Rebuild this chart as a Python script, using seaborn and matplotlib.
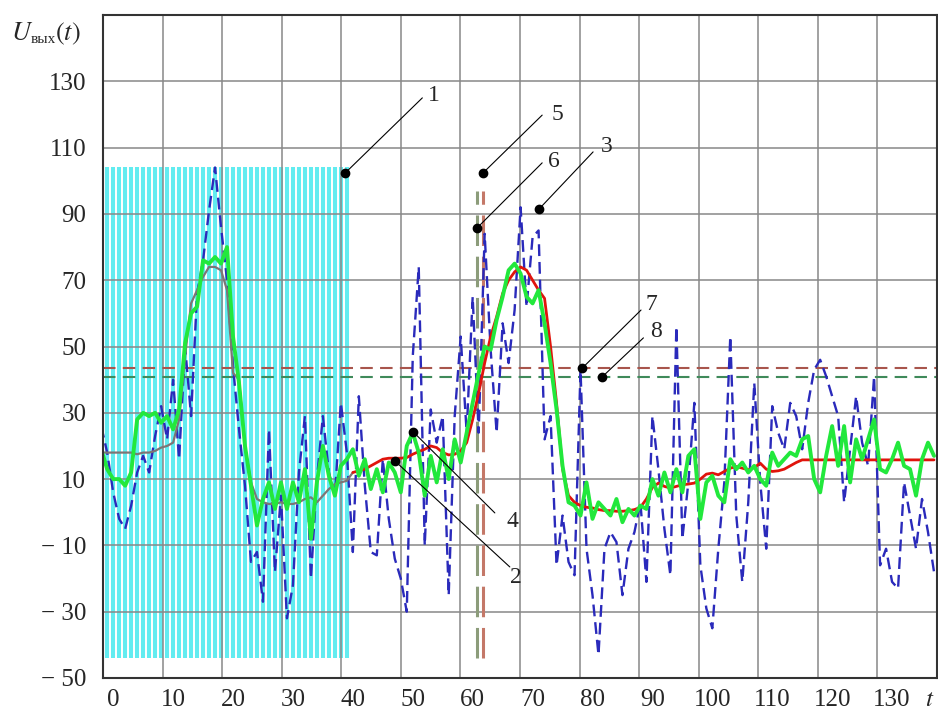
import numpy as np
import pandas as pd
import seaborn as sns
import matplotlib.pyplot as plt

# time axis, one sample per unit
t = np.arange(-2, 138)

# noisy output (blue dashed, curve 3)
blue = [26, 18,
        6, -2, -5, 2, 12, 17, 12, 23, 32, 22,
        40, 16, 50, 29, 66, 76, 91, 104, 86, 70,
        44, 25, 8, -15, -12, -27, 25, -18, 5, -32,
        -22, 12, 29, -20, 10, 29, 12, 5, 33, 18,
        -12, 35, 8, -12, -13, 16, -2, -14, -20, -30,
        47, 74, -10, 31, 21, 29, -25, 29, 53, 24,
        65, 24, 84, 49, 24, 57, 45, 61, 92, 62,
        83, 85, 22, 29, -16, -1, -15, -19, 43, -11,
        -25, -43, -11, -6, -9, -25, -11, -6, 3, -21,
        29, 13, -5, -19, 56, -8, 9, 33, -16, -29,
        -35, -11, 9, 53, -1, -21, 3, 39, 9, -11,
        32, 24, 19, 33, 29, 19, 33, 43, 46, 41,
        35, 29, 3, 19, 35, 21, 14, 41, -16, -11,
        -21, -23, 9, -1, -11, 4, -6, -18]

# filtered output (green, curve 4)
green = [19, 13,
         10, 10, 8, 12, 28, 30, 29, 30, 27, 29,
         25, 31, 51, 60, 62, 76, 75, 77, 75, 80,
         53, 39, 20, 8, -4, 4, 9, 1, 9, 1,
         9, 3, 13, -8, 9, 20, 11, 5, 14, 16,
         19, 11, 16, 7, 13, 6, 15, 12, 6, 20,
         24, 18, 5, 17, 9, 19, 10, 22, 15, 24,
         33, 42, 50, 49, 58, 65, 73, 75, 72, 65,
         63, 67, 57, 45, 31, 14, 3, 2, -1, 9,
         -2, 3, 1, -1, 4, -3, 1, -1, 2, 1,
         10, 5, 12, 6, 13, 6, 17, 19, -2, 9,
         11, 5, 3, 16, 13, 15, 12, 14, 10, 8,
         18, 14, 16, 18, 17, 22, 23, 10, 6, 17,
         26, 14, 26, 9, 22, 16, 22, 28, 13, 12,
         16, 21, 14, 13, 5, 16, 21, 17]

# smoothed output (gray up to t=40, red after, curve 2)
smooth = [18, 18,
          18, 18, 18, 18, 17.5, 18, 18, 18.5, 19.5, 20,
          21, 28, 47, 63, 67, 71, 74, 74, 73, 67,
          42, 40, 20, 9, 4, 3, 2.5, 2.5, 3, 2.5,
          2.5, 3, 4, 4.5, 3, 5, 7, 8.5, 9, 9.5,
          12, 12.5, 13, 14, 15, 16, 16.3, 16.3, 16.3, 16.5,
          17.5, 18.3, 19, 20, 19.5, 18, 17.3, 17.5, 18.5, 21,
          28, 36, 45, 53, 59, 66, 70, 72.5, 74, 73,
          70, 67, 64.5, 50, 33, 13, 5, 3, 2, 1.5,
          1.3, 0.8, 0.5, 0.5, 0.3, 0.3, 0.5, 0.8, 1.5, 4,
          7.5, 8.8, 7.8, 7.3, 7.8, 8.3, 8.5, 8.8, 10, 11.5,
          11.8, 11.3, 12.3, 13.3, 13.8, 13.3, 12.8, 13.5, 14.8, 13,
          12.3, 12.5, 13, 14, 15, 15.8, 15.8, 15.8, 15.8, 15.8,
          15.8, 15.8, 15.8, 15.8, 15.8, 15.8, 15.8, 15.8, 15.8, 15.8,
          15.8, 15.8, 15.8, 15.8, 15.8, 15.8, 15.8, 15.8]

# training window (cyan, curve 1)
window_t = np.arange(-1, 40)
window_top, window_bottom = 104, -44

# thresholds (7, 8) and switching moments (5, 6)
level_red, level_green = 43.5, 40.8
switch_red, switch_green = 61.7, 60.8
switch_top, switch_bottom = 97, -44

xticks = list(range(0, 140, 10))
yticks = list(range(-50, 150, 20))
ytick_labels = [f"\u2212 {abs(v)}" if v < 0 else str(v) for v in yticks]

# number, marker point, end of leader, label centre
callouts = [("1", (38.7, 102.3), (51.6, 125.0), (53.6, 125.6)),
            ("5", (61.7, 102.3), (71.6, 119.8), (74.1, 120.1)),
            ("6", (60.7, 85.7), (71.6, 105.4), (73.6, 105.7)),
            ("3", (71.1, 91.5), (80.1, 108.7), (82.4, 110.2)),
            ("7", (78.3, 43.5), (88.1, 61.0), (89.8, 62.8)),
            ("8", (81.6, 40.8), (88.5, 52.6), (90.6, 54.4)),
            ("2", (47.0, 15.5), (66.2, -16.5), (67.2, -19.8)),
            ("4", (50.1, 24.2), (63.7, -0.2), (66.6, -2.9))]

sns.set_style("white")
plt.rcParams['font.family'] = ['Liberation Serif', 'DejaVu Serif']
plt.rcParams['mathtext.fontset'] = 'stix'

df = pd.DataFrame({'t': t, 'blue': blue, 'green': green, 'smooth': smooth})

fig = plt.figure(figsize=(9.38, 7.11), dpi=100)
ax = fig.add_axes([103 / 938, 33 / 711, 834 / 938, 663 / 711])
xlim = (-1.7, 137.5)

ax.vlines(window_t, window_bottom, window_top, color='#62ecf0', lw=2.9, zorder=1)

ax.axhline(level_red, color='#a8554c', lw=1.5, dashes=(6, 3.5), zorder=2.6)
ax.axhline(level_green, color='#3f8a5a', lw=1.5, dashes=(6, 3.5), zorder=2.6)
ax.vlines(switch_green, switch_bottom, switch_top, color='#8c9c7a', lw=2.2,
          linestyles=(0, (10, 3.5)), zorder=2.7)
ax.vlines(switch_red, switch_bottom, switch_top, color='#c47868', lw=2.2,
          linestyles=(0, (10, 3.5)), zorder=2.7)

sns.lineplot(data=df, x='t', y='blue', ax=ax, color='#2a2abb', lw=1.7,
             linestyle=(0, (5, 2.5)), sort=False, zorder=3)
sns.lineplot(data=df[df.t <= 40], x='t', y='smooth', ax=ax, color='#7d7575',
             lw=1.6, sort=False, zorder=4)
sns.lineplot(data=df[df.t >= 40], x='t', y='smooth', ax=ax, color='#e0140c',
             lw=2.0, sort=False, zorder=4)
sns.lineplot(data=df, x='t', y='green', ax=ax, color='#22e83c', lw=2.8,
             sort=False, zorder=5)

for num, (mx, my), (ex, ey), (lx, ly) in callouts:
    ax.plot([mx, ex], [my, ey], color='black', lw=0.8, zorder=6)
    ax.plot(mx, my, 'o', color='black', ms=6, zorder=7)
    ax.text(lx, ly, num, fontsize=17, ha='center', va='center', zorder=7)

ax.set_xlim(*xlim)
ax.set_ylim(-50, 150)
ax.set_xticks(xticks + [136.3])
ax.set_xticklabels([str(v) for v in xticks] + ['$t$'])
ax.set_xticks(np.linspace(xlim[0], xlim[1], 15)[1:-1], minor=True)
ax.set_yticks(yticks)
ax.set_yticklabels(ytick_labels)
ax.set_xlabel('')
ax.set_ylabel('')
ax.tick_params(which='both', length=0, labelsize=18)
ax.tick_params(axis='y', pad=12)
ax.tick_params(axis='x', pad=8)
ax.grid(which='minor', axis='x', color='#888888', lw=1.1)
ax.grid(which='major', axis='y', color='#888888', lw=1.1)
ax.grid(which='major', axis='x', visible=False)
ax.set_axisbelow(False)
for side in ['left', 'bottom', 'top', 'right']:
    ax.spines[side].set_color('#333333')
    ax.spines[side].set_linewidth(1.5)
    ax.spines[side].set_zorder(8)

fig.text(11 / 938, 1 - 40 / 711, '$U$', fontsize=19, va='baseline')
fig.text(31 / 938, 1 - 43 / 711, 'вых', fontsize=11, va='baseline')
fig.text(55 / 938, 1 - 40 / 711, '$(t)$', fontsize=19, va='baseline')

fig.savefig('out.png', dpi=100)
